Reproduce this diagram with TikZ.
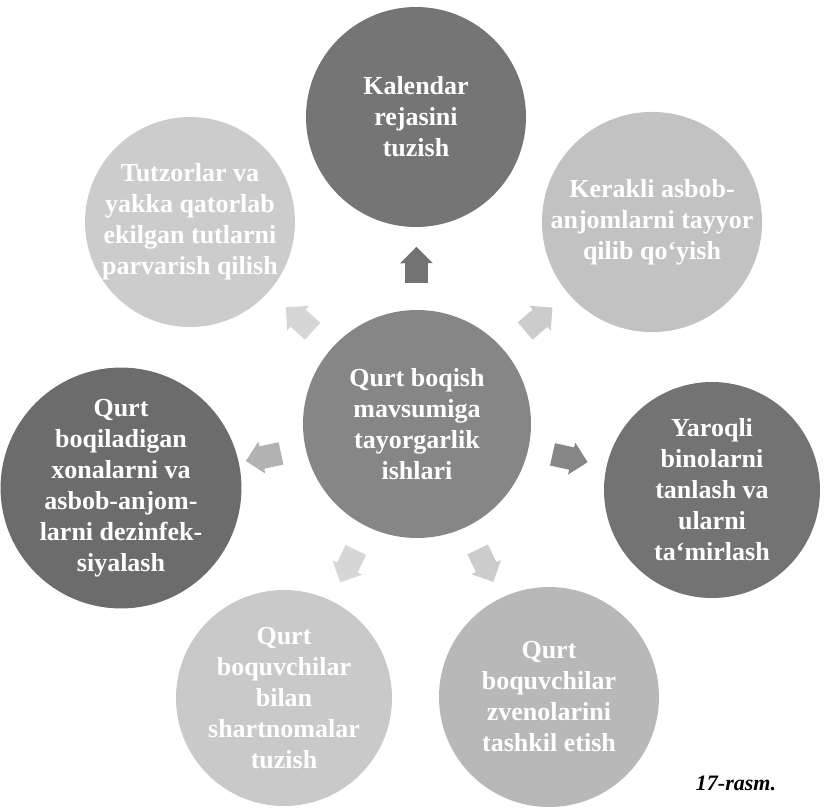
\documentclass[tikz,border=0pt]{standalone}
\usepackage{fontspec}
\setmainfont{Liberation Serif}
\usetikzlibrary{calc,shapes.arrows}

\definecolor{darkdisc}{gray}{0.50}
\definecolor{middisc}{gray}{0.72}
\definecolor{lightdisc}{gray}{0.80}
\definecolor{palearrow}{gray}{0.84}

\begin{document}
\begin{tikzpicture}
		[x=0.5pt, y=-0.5pt,
		 topic/.style={circle, inner sep=0pt, text=white, align=center,
			font=\bfseries\fontsize{13}{15.5}\selectfont},
		 pointer/.style={single arrow, draw=none, inner xsep=0pt, inner ysep=5.5pt,
			minimum height=18pt, single arrow head extend=2.5pt}]
		\useasboundingbox (0,0) rectangle (824,809);

		\node[topic, minimum size=114pt, fill=darkdisc!95] (main) at (417,424)
			{Qurt boqish\\mavsumiga\\tayorgarlik\\ishlari};

		\node[topic, minimum size=110pt, fill=darkdisc!92!black] (kal) at (416,117)
			{Kalendar\\rejasini\\tuzish};
		\node[topic, minimum size=104pt, fill=lightdisc!95!black] (asb) at (652,222)
			{Kerakli asbob-\\anjomlarni tayyor\\qilib qo`yish};
		\node[topic, minimum size=108pt, fill=darkdisc!90!black] (bin) at (712,490)
			{Yaroqli\\binolarni\\tanlash va\\ularni\\ta`mirlash};
		\node[topic, minimum size=110pt, fill=middisc] (zve) at (549,697)
			{Qurt\\boquvchilar\\zvenolarini\\tashkil etish};
		\node[topic, minimum size=108pt, fill=lightdisc!105] (sha) at (284,698)
			{Qurt\\boquvchilar\\bilan\\shartnomalar\\tuzish};
		\node[topic, minimum size=108pt, fill=darkdisc!85!black] (dez) at (121,488)
			{Qurt\\boqiladigan\\xonalarni va\\asbob-anjom-\\larni dezinfek-\\siyalash};
		\node[topic, minimum size=101pt, fill=lightdisc] (tut) at (190,222)
			{Tutzorlar va\\yakka qatorlab\\ekilgan tutlarni\\parvarish qilish};

		% pointers from the centre outwards
		\foreach \target/\tone in {kal/darkdisc!90!black, asb/lightdisc, bin/darkdisc!95,
				zve/lightdisc, sha/palearrow, dez/gray!60, tut/palearrow}
			\path let \p1 = ($(\target)-(main)$), \n1 = {atan2(\y1,\x1)} in
				node[pointer, fill=\tone, rotate=\n1] (arr-\target)
				at ($(main)!0.5!(\target)$) {};

		\node[font=\bfseries\itshape\fontsize{11}{13}\selectfont] (cap) at (736,783) {17-rasm.};
	\end{tikzpicture}
\end{document}
